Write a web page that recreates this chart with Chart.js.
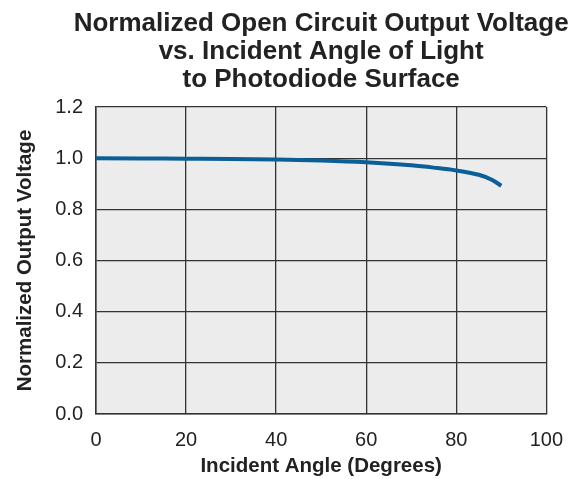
<!DOCTYPE html>
<html>
<head>
<meta charset="utf-8">
<script src="https://cdn.jsdelivr.net/npm/chart.js@4"></script>
<style>
html,body{margin:0;padding:0;background:#fff;}
#wrap{width:577px;height:479px;position:relative;}
</style>
</head>
<body>
<div id="wrap"><canvas id="c" width="577" height="479"></canvas></div>
<script>
const titleLines = ["Normalized Open Circuit Output Voltage", "vs. Incident Angle of Light", "to Photodiode Surface"];
const xAxisTitle = "Incident Angle (Degrees)";
const yAxisTitle = "Normalized Output Voltage";
const angles = [0, 10, 20, 30, 40, 50, 60, 70, 75, 80, 85, 88, 90];
const voltage = [1.000, 0.999, 0.998, 0.997, 0.995, 0.991, 0.984, 0.972, 0.963, 0.952, 0.935, 0.915, 0.892];
const xTicks = [0, 20, 40, 60, 80, 100];
const yTicks = [0.0, 0.2, 0.4, 0.6, 0.8, 1.0, 1.2];

const FONT = "'Liberation Sans', Arial, Helvetica, sans-serif";

const bgPlugin = {
  id: 'bg',
  beforeDraw(chart) {
    const {ctx, chartArea: a} = chart;
    ctx.save();
    ctx.fillStyle = '#ececec';
    ctx.fillRect(a.left, a.top, a.right - a.left, a.bottom - a.top);
    ctx.restore();
  },
  afterDraw(chart) {
    const {ctx, chartArea: a} = chart;
    ctx.save();
    ctx.fillStyle = '#222';
    ctx.textAlign = 'center';
    ctx.textBaseline = 'alphabetic';
    const cx = (a.left + a.right) / 2;
    ctx.font = "bold 26px " + FONT;
    const base = [31, 59, 87];
    titleLines.forEach((t, i) => ctx.fillText(t, cx, base[i]));
    ctx.font = "bold 20.5px " + FONT;
    ctx.textBaseline = 'middle';
    ctx.fillText(xAxisTitle, cx, 466);
    ctx.translate(25, (a.top + a.bottom) / 2);
    ctx.rotate(-Math.PI / 2);
    ctx.fillText(yAxisTitle, 0, 0);
    ctx.restore();
  }
};

new Chart(document.getElementById('c'), {
  type: 'line',
  data: {
    datasets: [{
      data: angles.map((a, i) => ({x: a, y: voltage[i]})),
      borderColor: '#0a5f96',
      borderWidth: 4,
      pointRadius: 0,
      fill: false,
      cubicInterpolationMode: 'monotone',
      borderCapStyle: 'butt'
    }]
  },
  options: {
    responsive: false,
    animation: false,
    events: [],
    layout: {padding: {top: 107, right: 19, left: 0, bottom: 0}},
    plugins: {legend: {display: false}, tooltip: {enabled: false}, title: {display: false}},
    scales: {
      x: {
        type: 'linear',
        min: 0, max: 100,
        afterBuildTicks(s) { s.ticks = xTicks.map(v => ({value: v})); },
        afterFit(s) { s.height = 65; },
        ticks: {color: '#222', font: {family: FONT, size: 20}, padding: 14, maxRotation: 0},
        grid: {color: '#333', lineWidth: 1.3, drawTicks: false},
        border: {color: '#333', width: 1.5}
      },
      y: {
        type: 'linear',
        min: 0, max: 1.2,
        afterBuildTicks(s) { s.ticks = yTicks.map(v => ({value: v})); },
        afterFit(s) { s.width = 96; },
        ticks: {color: '#222', font: {family: FONT, size: 20}, padding: 13, callback: v => Number(v).toFixed(1)},
        grid: {color: '#333', lineWidth: 1.3, drawTicks: false},
        border: {color: '#333', width: 1.5}
      }
    }
  },
  plugins: [bgPlugin]
});
</script>
</body>
</html>
